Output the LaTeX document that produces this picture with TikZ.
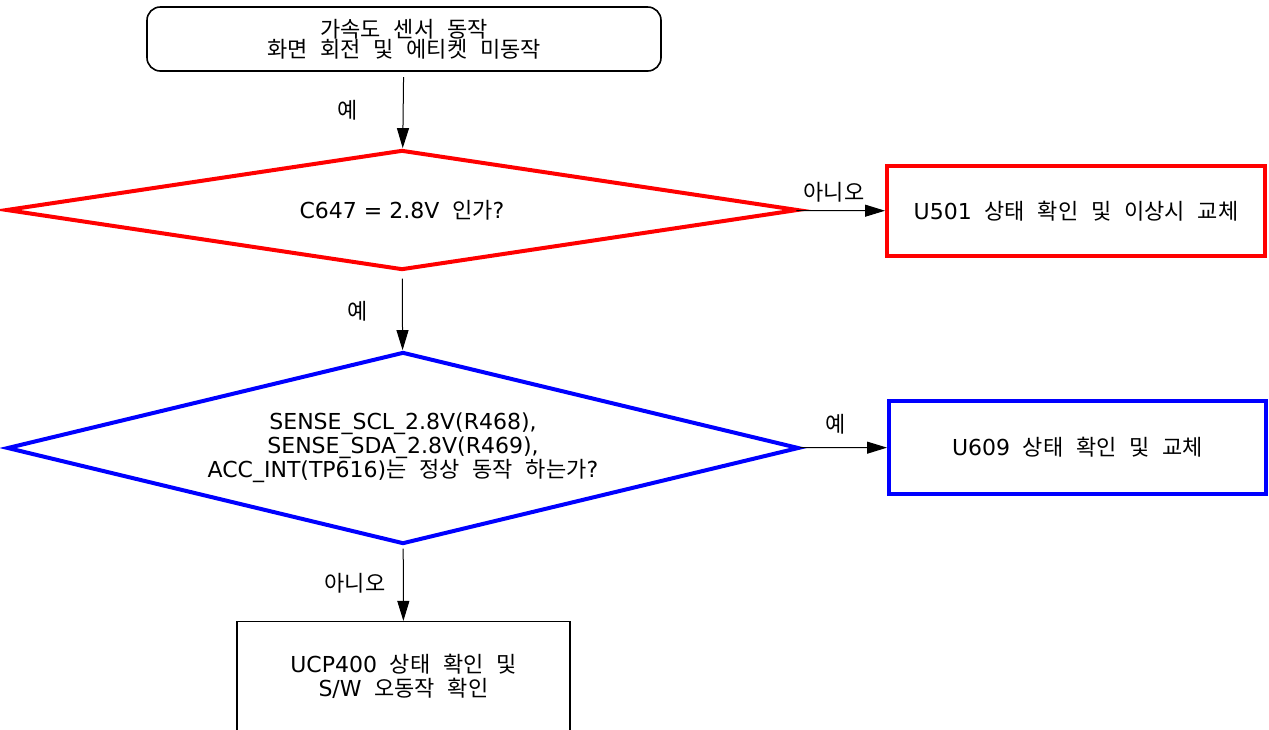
\documentclass[tikz,border=0pt]{standalone}
\usepackage{fontspec}
\setmainfont{DejaVu Sans}
\newfontfamily\kr{Noto Sans CJK KR}[WordSpace=2.6]
\usepackage{tikz}
\usetikzlibrary{shapes.geometric, arrows.meta, positioning}
\usepackage{xcolor}
\definecolor{checkred}{HTML}{FF0000}
\definecolor{checkblue}{HTML}{0000FF}
\tikzstyle{startbox} = [rectangle, rounded corners=10pt, minimum width=385.5pt, minimum height=48pt, align=center, draw=black, line width=1.2pt, inner sep=0pt, font=\fontsize{16.5}{15}\selectfont]
\tikzstyle{decision} = [diamond, align=center, inner sep=0pt, line width=3pt, font=\fontsize{16.5}{14.5}\selectfont]
\tikzstyle{actbox} = [rectangle, align=center, inner sep=0pt, line width=3pt, font=\fontsize{16.5}{18}\selectfont]
\tikzstyle{arrow} = [-{Triangle[length=15pt, width=9pt]}, line width=0.75pt, color=black]
\tikzstyle{lbl} = [inner sep=0pt, font=\fontsize{16.5}{15}\selectfont\kr]

\begin{document}
\begin{tikzpicture}[x=0.75pt, y=-0.75pt]
    \useasboundingbox (0,0) rectangle (1269,729);

    % Start
    \node[startbox] (sensor) at (404,39) {{\kr 가속도 센서 동작}\\{\kr 화면 회전 및 에티켓 미동작}};

    % Checks
    \node[decision, draw=checkred, aspect=6.583, minimum width=594pt, minimum height=90pt] (volt) at (402,210) {C647 = 2.8V{\kr\ 인가}?};
    \node[decision, draw=checkblue, aspect=4.125, minimum width=594pt, minimum height=144pt] (bus) at (403,448)
        {SENSE\_SCL\_2.8V(R468),\\SENSE\_SDA\_2.8V(R469),\\ACC\_INT(TP616){\kr 는 정상 동작 하는가}?};

    % Actions
    \node[actbox, draw=checkred, minimum width=283.5pt, minimum height=67.5pt] (pmic) at (1076,211) {U501{\kr\ 상태 확인 및 이상시 교체}};
    \node[actbox, draw=checkblue, minimum width=282.75pt, minimum height=69.75pt] (accel) at (1077.5,447.5) {U609{\kr\ 상태 확인 및 교체}};
    \node[actbox, draw=black, line width=0.9pt, minimum width=249.75pt, minimum height=82.5pt] (ucp) at (403.5,676.5) {UCP400{\kr\ 상태 확인 및}\\S/W{\kr\ 오동작 확인}};

    % Arrows
    \draw[arrow, shorten <=4pt] (sensor) -- node[lbl, left=34pt] {예} (volt);
    \draw[arrow, shorten <=5pt] (volt) -- node[lbl, left=26pt] {예} (bus);
    \draw[arrow] (volt) -- node[lbl, above=6pt, xshift=-5pt] {아니오} (pmic);
    \draw[arrow] (bus) -- node[lbl, above=10pt, xshift=-6pt] {예} (accel);
    \draw[arrow, shorten <=2pt] (bus) -- node[lbl, left=13pt] {아니오} (ucp);
  \end{tikzpicture}
\end{document}
